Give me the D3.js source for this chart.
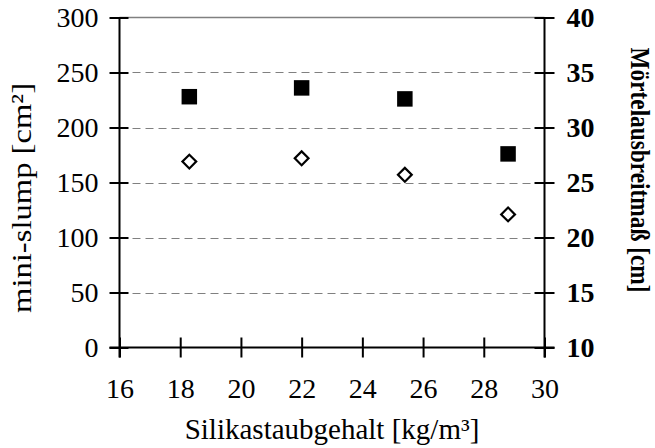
<!DOCTYPE html>
<html>
<head>
<meta charset="UTF-8" />
<title>mini-slump und Mörtelausbreitmaß</title>
<style>
  body { margin: 0; background: #fff; }
  text { font-family: "Liberation Serif", "Times New Roman", serif; }
</style>
</head>
<body>
<script src="https://cdn.jsdelivr.net/npm/d3@7/dist/d3.min.js"></script>
<script>
// Silikastaubgehalt [kg/m³]
var silika = [18.3, 22.0, 25.4, 28.8];
// mini-slump [cm²] (left axis, open diamonds)
var miniSlump = [169, 172, 157, 121];
// Mörtelausbreitmaß [cm] (right axis, filled squares)
var ausbreit = [32.8, 33.6, 32.6, 27.6];

var xTicks = [16, 18, 20, 22, 24, 26, 28, 30];
var leftTicks = [0, 50, 100, 150, 200, 250, 300];
var rightTicks = [10, 15, 20, 25, 30, 35, 40];

var width = 655, height = 448;
var pLeft = 119.5, pRight = 544.5, pTop = 17.5, pBottom = 347.5;
var fontSize = 28;

var svg = d3.select("body").append("svg")
    .attr("width", width)
    .attr("height", height);

var x = d3.scaleLinear().domain([16, 30]).range([pLeft, pRight]);
var yL = d3.scaleLinear().domain([0, 300]).range([pBottom, pTop]);
var yR = d3.scaleLinear().domain([10, 40]).range([pBottom, pTop]);

// dashed grid
svg.append("g")
    .selectAll("line")
    .data(leftTicks.filter(function(d) { return d > 0 && d < 300; }))
    .join("line")
    .attr("x1", pLeft).attr("x2", pRight)
    .attr("y1", function(d) { return Math.round(yL(d)) + 0.5; })
    .attr("y2", function(d) { return Math.round(yL(d)) + 0.5; })
    .attr("stroke", "#808080")
    .attr("stroke-width", 1)
    .attr("stroke-dasharray", "8,5");

// top border
svg.append("line")
    .attr("x1", pLeft).attr("x2", pRight)
    .attr("y1", pTop).attr("y2", pTop)
    .attr("stroke", "#808080")
    .attr("stroke-width", 1.5);

function styleAxis(g) {
    g.select(".domain").remove();
    g.selectAll(".tick line")
        .attr("stroke", "#000")
        .attr("stroke-width", 2);
    g.selectAll(".tick text")
        .attr("fill", "#000")
        .style("font-family", '"Liberation Serif", "Times New Roman", serif')
        .style("font-size", fontSize + "px");
}

// x axis
var gx = svg.append("g")
    .attr("transform", "translate(0," + pBottom + ")")
    .call(d3.axisBottom(x).tickValues(xTicks).tickSize(10).tickPadding(21));
styleAxis(gx);
gx.selectAll(".tick line").attr("y1", -10);

// left axis
var gl = svg.append("g")
    .attr("transform", "translate(" + pLeft + ",0)")
    .call(d3.axisLeft(yL).tickValues(leftTicks).tickSize(10).tickPadding(11));
styleAxis(gl);
gl.selectAll(".tick line").attr("x1", 9);

// right axis
var gr = svg.append("g")
    .attr("transform", "translate(" + pRight + ",0)")
    .call(d3.axisRight(yR).tickValues(rightTicks).tickSize(10).tickPadding(12));
styleAxis(gr);
gr.selectAll(".tick line").attr("x1", -10);
gr.selectAll(".tick text").style("font-weight", "bold");

// axis lines
svg.append("line")
    .attr("x1", pLeft - 10).attr("x2", pRight + 10)
    .attr("y1", pBottom).attr("y2", pBottom)
    .attr("stroke", "#000").attr("stroke-width", 2);
svg.append("line")
    .attr("x1", pLeft).attr("x2", pLeft)
    .attr("y1", pTop).attr("y2", pBottom + 10)
    .attr("stroke", "#000").attr("stroke-width", 2);
svg.append("line")
    .attr("x1", pRight).attr("x2", pRight)
    .attr("y1", pTop).attr("y2", pBottom + 10)
    .attr("stroke", "#000").attr("stroke-width", 2);

// markers: squares (right axis)
svg.append("g")
    .selectAll("path")
    .data(ausbreit)
    .join("path")
    .attr("d", d3.symbol().type(d3.symbolSquare).size(240))
    .attr("transform", function(d, i) {
        return "translate(" + x(silika[i]) + "," + yR(d) + ")";
    })
    .attr("fill", "#000");

// markers: diamonds (left axis)
svg.append("g")
    .selectAll("path")
    .data(miniSlump)
    .join("path")
    .attr("d", d3.symbol().type(d3.symbolSquare).size(95))
    .attr("transform", function(d, i) {
        return "translate(" + x(silika[i]) + "," + yL(d) + ") rotate(45)";
    })
    .attr("fill", "#fff")
    .attr("stroke", "#000")
    .attr("stroke-width", 2.2);

// axis titles
svg.append("text")
    .attr("x", (pLeft + pRight) / 2)
    .attr("y", 439)
    .attr("text-anchor", "middle")
    .style("font-size", "29px")
    .text("Silikastaubgehalt [kg/m³]");

svg.append("text")
    .attr("transform", "translate(31,198) rotate(-90)")
    .attr("text-anchor", "middle")
    .attr("textLength", 230)
    .attr("lengthAdjust", "spacingAndGlyphs")
    .style("font-size", "28px")
    .text("mini-slump [cm²]");

svg.append("text")
    .attr("transform", "translate(631,170) rotate(90)")
    .attr("text-anchor", "middle")
    .attr("textLength", 245)
    .attr("lengthAdjust", "spacingAndGlyphs")
    .style("font-size", "27px")
    .style("font-weight", "bold")
    .text("Mörtelausbreitmaß [cm]");
</script>
</body>
</html>
